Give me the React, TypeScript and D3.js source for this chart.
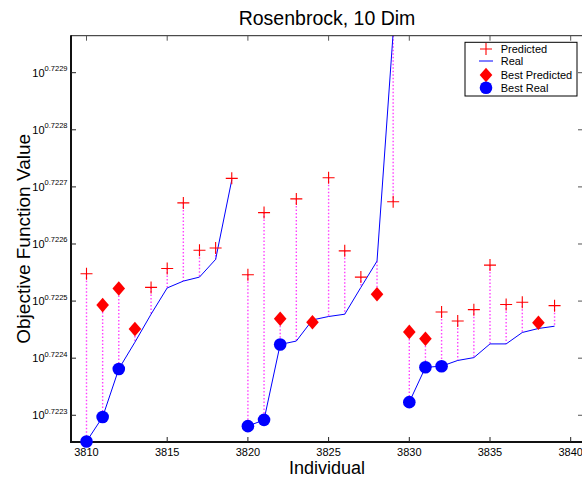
import React from "react";
import * as d3 from "d3";

const individuals = [
  3810, 3811, 3812, 3813, 3814, 3815, 3816, 3817, 3818, 3819,
  3820, 3821, 3822, 3823, 3824, 3825, 3826, 3827, 3828, 3829,
  3830, 3831, 3832, 3833, 3834, 3835, 3836, 3837, 3838, 3839,
];
// log10 of objective values
const predictedExp = [
  0.722548, 0.722493, 0.722522, 0.722451, 0.722524, 0.722557, 0.722672, 0.722589, 0.722593, 0.722715,
  0.722546, 0.722655, 0.722469, 0.722679, 0.722463, 0.722716, 0.722588, 0.722542, 0.722512, 0.722674,
  0.722446, 0.722434, 0.722481, 0.722465, 0.722485, 0.722563, 0.722494, 0.722498, 0.722462, 0.722492,
];
const realExp = [
  0.722254, 0.722297, 0.722381, 0.722428, 0.722477, 0.722523, 0.722535, 0.722542, 0.722573, 0.722712,
  0.722281, 0.722292, 0.722424, 0.72243, 0.722467, 0.722473, 0.722477, 0.722524, 0.72257, 0.72297,
  0.722323, 0.722384, 0.722386, 0.722396, 0.722401, 0.722425, 0.722425, 0.722445, 0.722452, 0.722456,
];
const bestPredicted = [3811, 3812, 3813, 3822, 3824, 3828, 3830, 3831, 3838];
const bestReal = [3810, 3811, 3812, 3820, 3821, 3822, 3830, 3831, 3832];
const runs = [
  [3810, 3819],
  [3820, 3829],
  [3830, 3839],
];
const xTicks = [3810, 3815, 3820, 3825, 3830, 3835, 3840];
const yTickExp = ["0.7223", "0.7224", "0.7225", "0.7226", "0.7227", "0.7228", "0.7229"];
const legendLabels = ["Predicted", "Real", "Best Predicted", "Best Real"];

const W = 582;
const H = 477;
const L = 71;
const R = 583;
const T = 35.7;
const B = 442;
const FONT = "'Liberation Sans', Arial, Helvetica, sans-serif";

export default function App() {
  const x = d3.scaleLinear().domain([3810, 3840]).range([86.5, 570.7]);
  const y = d3
    .scaleLog()
    .domain([Math.pow(10, 0.7222532), Math.pow(10, 0.7229648)])
    .range([B, T]);
  const yv = (e: number) => y(Math.pow(10, e));

  const line = d3
    .line<number>()
    .x((i) => x(individuals[i]))
    .y((i) => yv(realExp[i]));

  const idx = individuals.map((_, i) => i);
  const tickLen = 5;

  const diamond = (cx: number, cy: number, hw: number, hh: number) =>
    `M${cx},${cy - hh}L${cx + hw},${cy}L${cx},${cy + hh}L${cx - hw},${cy}Z`;
  const plus = (cx: number, cy: number, s: number) =>
    `M${cx - s},${cy}H${cx + s}M${cx},${cy - s}V${cy + s}`;

  const legX = 486;
  const legTextX = 500.7;
  const legY = [49, 61, 75, 87.7];

  return (
    <svg
      width={W}
      height={H}
      style={{ position: "absolute", left: 0, top: 0, background: "#fff" }}
      fontFamily={FONT}
    >
      <rect x={0} y={0} width={W} height={H} fill="#fff" />
      <defs>
        <clipPath id="plotClip">
          <rect x={L} y={T} width={R - L} height={B - T} />
        </clipPath>
      </defs>

      <g clipPath="url(#plotClip)">
        {idx.map((i) => (
          <line
            key={"d" + i}
            x1={x(individuals[i])}
            x2={x(individuals[i])}
            y1={yv(predictedExp[i])}
            y2={yv(realExp[i])}
            stroke="#ff00ff"
            strokeOpacity={0.75}
            strokeWidth={1.4}
            strokeDasharray="1.5,2"
          />
        ))}
        {runs.map((r, k) => {
          const ids = idx.filter((i) => individuals[i] >= r[0] && individuals[i] <= r[1]);
          return (
            <path key={"l" + k} d={line(ids) || ""} fill="none" stroke="#0000ff" strokeWidth={1} />
          );
        })}
      </g>

      <line x1={L} x2={R} y1={T} y2={T} stroke="#222" strokeWidth={1} />
      <line x1={R} x2={R} y1={T} y2={B} stroke="#222" strokeWidth={1} />
      <line x1={L} x2={L} y1={T - 0.5} y2={B + 1} stroke="#111" strokeWidth={2} />
      <line x1={L - 1} x2={R} y1={B} y2={B} stroke="#111" strokeWidth={2} />

      {xTicks.map((t) => (
        <g key={"xt" + t}>
          <line x1={x(t)} x2={x(t)} y1={B} y2={B - tickLen} stroke="#222" strokeWidth={1} />
          <line x1={x(t)} x2={x(t)} y1={T} y2={T + tickLen} stroke="#555" strokeWidth={1} />
          <text x={x(t)} y={456} textAnchor="middle" fontSize={11} fill="#000">
            {t}
          </text>
        </g>
      ))}

      {yTickExp.map((e) => {
        const yy = yv(+e);
        return (
          <g key={"yt" + e}>
            <line x1={L} x2={L + tickLen} y1={yy} y2={yy} stroke="#222" strokeWidth={1} />
            <line x1={R} x2={R - tickLen} y1={yy} y2={yy} stroke="#555" strokeWidth={1} />
            <text x={67.5} y={yy + 4} textAnchor="end" fill="#000">
              <tspan fontSize={11}>10</tspan>
              <tspan fontSize={7.5} dy={-5.5}>
                {e}
              </tspan>
            </text>
          </g>
        );
      })}

      {/* markers (not clipped, as in the original) */}
      {idx
        .filter((i) => !bestPredicted.includes(individuals[i]))
        .map((i) => (
          <path
            key={"p" + i}
            d={plus(x(individuals[i]), yv(predictedExp[i]), 6)}
            stroke="#ff0000"
            strokeWidth={1.1}
            fill="none"
          />
        ))}
      {idx
        .filter((i) => bestPredicted.includes(individuals[i]))
        .map((i) => (
          <path
            key={"bp" + i}
            d={diamond(x(individuals[i]), yv(predictedExp[i]), 6.3, 7.3)}
            fill="#ff0000"
          />
        ))}
      {idx
        .filter((i) => bestReal.includes(individuals[i]))
        .map((i) => (
          <circle
            key={"br" + i}
            cx={x(individuals[i])}
            cy={yv(realExp[i])}
            r={6.3}
            fill="#0000ff"
          />
        ))}

      <text x={(L + R) / 2} y={25} textAnchor="middle" fontSize={19.5} fill="#000">
        Rosenbrock, 10 Dim
      </text>
      <text x={(L + R) / 2} y={474} textAnchor="middle" fontSize={18} fill="#000">
        Individual
      </text>
      <text
        transform={`translate(30,${(T + B) / 2}) rotate(-90)`}
        textAnchor="middle"
        fontSize={19}
        fill="#000"
      >
        Objective Function Value
      </text>

      <rect x={465} y={42.3} width={112} height={53.7} fill="#fff" stroke="#000" strokeWidth={1} />
      <path d={plus(legX, legY[0], 6)} stroke="#ff0000" strokeWidth={1.1} fill="none" />
      <line x1={479} x2={493} y1={legY[1]} y2={legY[1]} stroke="#0000ff" strokeWidth={1} />
      <path d={diamond(legX, legY[2], 6.3, 7.3)} fill="#ff0000" />
      <circle cx={legX} cy={legY[3]} r={6.3} fill="#0000ff" />
      {legendLabels.map((lab, k) => (
        <text key={lab} x={legTextX} y={legY[k] + 4} fontSize={11} fill="#000">
          {lab}
        </text>
      ))}
    </svg>
  );
}
